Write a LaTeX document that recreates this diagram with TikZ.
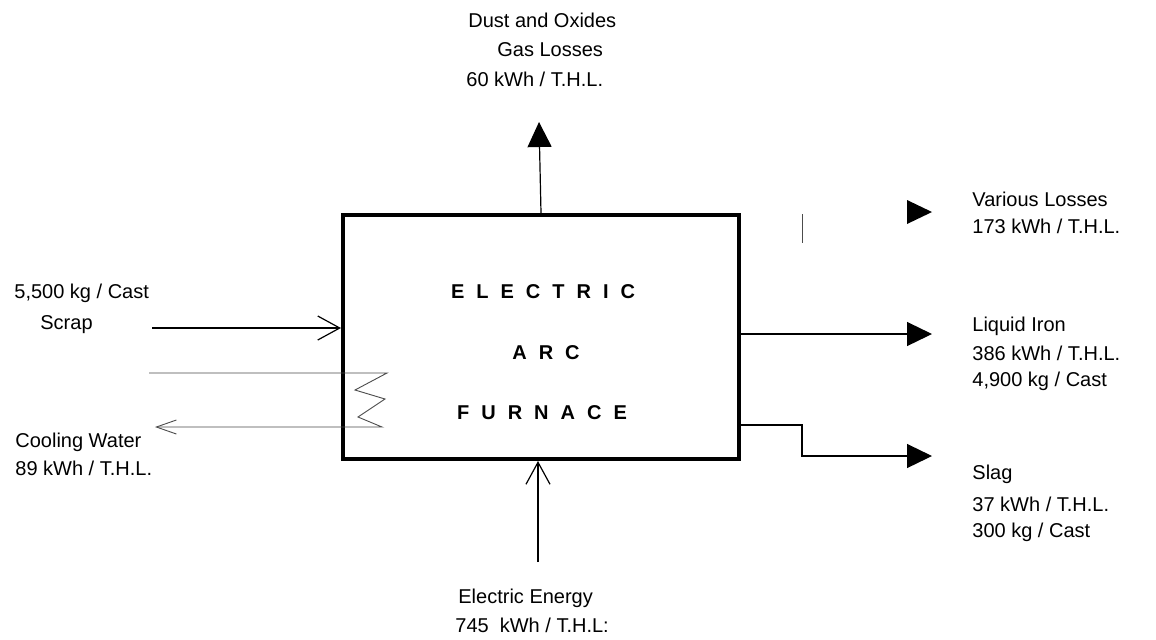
\documentclass[tikz,border=0pt]{standalone}
\usepackage{fontspec}
\setmainfont{Liberation Sans}
\usetikzlibrary{arrows.meta}
\begin{document}
\begin{tikzpicture}[x=0.5pt,y=-0.5pt,
  lbl/.style={anchor=west,inner sep=0pt,font=\fontsize{10}{12}\selectfont},
  boxtxt/.style={inner sep=0pt,font=\fontsize{10}{12}\selectfont\bfseries},
  flow/.style={line width=0.6pt},
  thin/.style={line width=0.45pt,black!70},
  solidtip/.style={-{Triangle[length=12.5pt,width=12pt]}},
  opentip/.style={-{Straight Barb[length=11pt,width=12pt,line width=0.6pt]}}]
\useasboundingbox (0,0) rectangle (1156,639);
\fill[white] (0,0) rectangle (1156,639);

% furnace box
\node[draw,line width=2pt,minimum width=198pt,minimum height=122pt,inner sep=0pt,anchor=north west] (box) at (341,213) {};
\node[boxtxt] (t1) at (543,292) {\spaceskip=6pt E L E C T R I C};
\node[boxtxt] (t2) at (546,353) {\spaceskip=6pt A R C};
\node[boxtxt] (t3) at (542,413) {\spaceskip=6pt F U R N A C E};

% top labels
\node[lbl] (d1) at (468,20) {Dust and Oxides};
\node[lbl] (d2) at (497,50) {Gas Losses};
\node[lbl] (d3) at (466,79) {60 kWh / T.H.L.};
\coordinate (topend) at (539,122);
\draw[flow,solidtip] (box.north) -- (topend);

% left input
\node[lbl] (s1) at (14,293) {5,500 kg / Cast};
\node[lbl] (s2) at (40,325) {Scrap};
\coordinate (scrapstart) at (152,328);
\draw[flow,opentip] (scrapstart) -- (scrapstart -| box.west);

% cooling water
\coordinate (cin) at (149,373);
\coordinate (cout) at (155,427);
\draw[thin,-{Straight Barb[length=10pt,width=7pt,line width=0.45pt]}]
  (cin) -- (387,373) -- (355,390) -- (385,399) -- (358,417) -- (382,427) -- (cout);
\node[lbl] (c1) at (15,442) {Cooling Water};
\node[lbl] (c2) at (15,468) {89 kWh / T.H.L.};

% bottom input
\coordinate (estart) at (538,562);
\draw[flow,opentip] (estart) -- (estart |- box.south);
\node[lbl] (e1) at (458,598) {Electric Energy};
\node[lbl] (e2) at (455,625) {745\ \ kWh / T.H.L:};

% various losses
\draw[thin] (802,214) -- (802,243);
\fill (907,200) -- (932,212) -- (907,224) -- cycle;
\node[lbl] (v1) at (972,199) {Various Losses};
\node[lbl] (v2) at (972,226) {173 kWh / T.H.L.};

% liquid iron
\coordinate (liend) at (932,334);
\draw[flow,solidtip] (liend -| box.east) -- (liend);
\node[lbl] (l1) at (972,326) {Liquid Iron};
\node[lbl] (l2) at (972,353) {386 kWh / T.H.L.};
\node[lbl] (l3) at (972,381) {4,900 kg / Cast};

% slag
\coordinate (slagstart) at (737,425);
\coordinate (slagend) at (932,456);
\draw[flow,solidtip] (slagstart -| box.east) -| (802,456) -- (slagend);
\node[lbl] (g1) at (972,474) {Slag};
\node[lbl] (g2) at (972,504) {37 kWh / T.H.L.};
\node[lbl] (g3) at (972,532) {300 kg / Cast};
\end{tikzpicture}
\end{document}
